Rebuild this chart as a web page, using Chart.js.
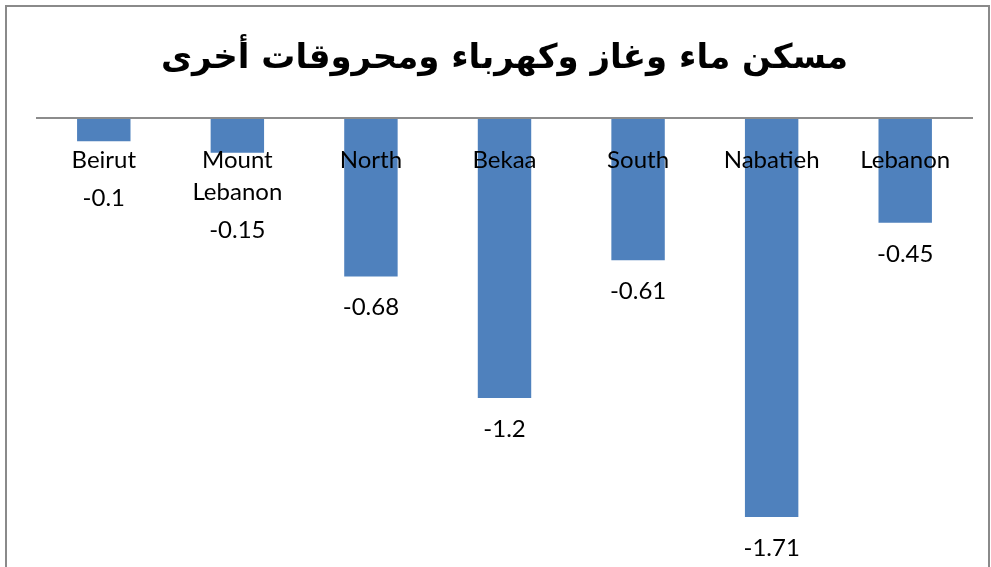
<!DOCTYPE html>
<html>
<head>
<meta charset="utf-8">
<script src="https://cdn.jsdelivr.net/npm/chart.js@4.4.0/dist/chart.umd.min.js"></script>
<style>
  html, body { margin: 0; padding: 0; background: #fff; overflow: hidden; }
  #frame { position: absolute; left: 5px; top: 5px; width: 981px; height: 580px; border: 2px solid #8a8a8a; }
  #wrap { position: relative; width: 981px; height: 560px; }
</style>
</head>
<body>
<div id="frame"><div id="wrap"><canvas id="c"></canvas></div></div>
<script>
// الفئات والقيم
const regions = ["Beirut", ["Mount", "Lebanon"], "North", "Bekaa", "South", "Nabatieh", "Lebanon"];
const values = [-0.1, -0.15, -0.68, -1.2, -0.61, -1.71, -0.45];
const valueLabels = ["-0.1", "-0.15", "-0.68", "-1.2", "-0.61", "-1.71", "-0.45"];
const chartTitle = "مسكن ماء وغاز وكهرباء ومحروقات أخرى";

const labelFont = { family: "Lato, 'Open Sans', sans-serif", size: 24 };
const catPad = 26;   // من خط الصفر إلى أعلى نص الفئة
const catLine = 32;  // تباعد الأسطر

// رسم قيم الأعمدة تحتها
const valueLabelPlugin = {
  id: "valueLabels",
  afterDatasetsDraw(chart) {
    const ctx = chart.ctx;
    const meta = chart.getDatasetMeta(0);
    const zeroY = chart.scales.y.getPixelForValue(0);
    ctx.save();
    ctx.font = `${labelFont.size}px ${labelFont.family}`;
    ctx.fillStyle = "#000";
    ctx.textAlign = "center";
    ctx.textBaseline = "middle";
    meta.data.forEach((bar, i) => {
      const lines = Array.isArray(regions[i]) ? regions[i].length : 1;
      const lastLine = zeroY + catPad + catLine / 2 + (lines - 1) * catLine;
      const y = Math.max(bar.y + 31, lastLine + 38);
      ctx.fillText(valueLabels[i], bar.x, y);
    });
    ctx.restore();
  }
};

new Chart(document.getElementById("c").getContext("2d"), {
  type: "bar",
  data: {
    labels: regions,
    datasets: [{
      data: values,
      backgroundColor: "#4F81BD",
      borderWidth: 0,
      categoryPercentage: 1,
      barPercentage: 0.4
    }]
  },
  options: {
    responsive: true,
    maintainAspectRatio: false,
    animation: false,
    layout: { padding: { left: 30, right: 16, bottom: 29, top: 0 } },
    plugins: {
      legend: { display: false },
      tooltip: { enabled: false },
      title: {
        display: true,
        text: chartTitle,
        color: "#000",
        font: { family: "'DejaVu Sans', sans-serif", size: 34, weight: "bold", lineHeight: 1.2 },
        padding: { top: 32, bottom: 38 }
      }
    },
    scales: {
      x: {
        position: { y: 0 },
        grid: { display: false, drawTicks: false },
        border: { display: true, color: "#8c8c8c", width: 2, z: 1 },
        ticks: {
          z: 1,
          color: "#000",
          font: { ...labelFont, lineHeight: catLine / labelFont.size },
          padding: catPad,
          maxRotation: 0,
          autoSkip: false
        }
      },
      y: {
        display: false,
        min: -1.8,
        max: 0
      }
    }
  },
  plugins: [valueLabelPlugin]
});
</script>
</body>
</html>
